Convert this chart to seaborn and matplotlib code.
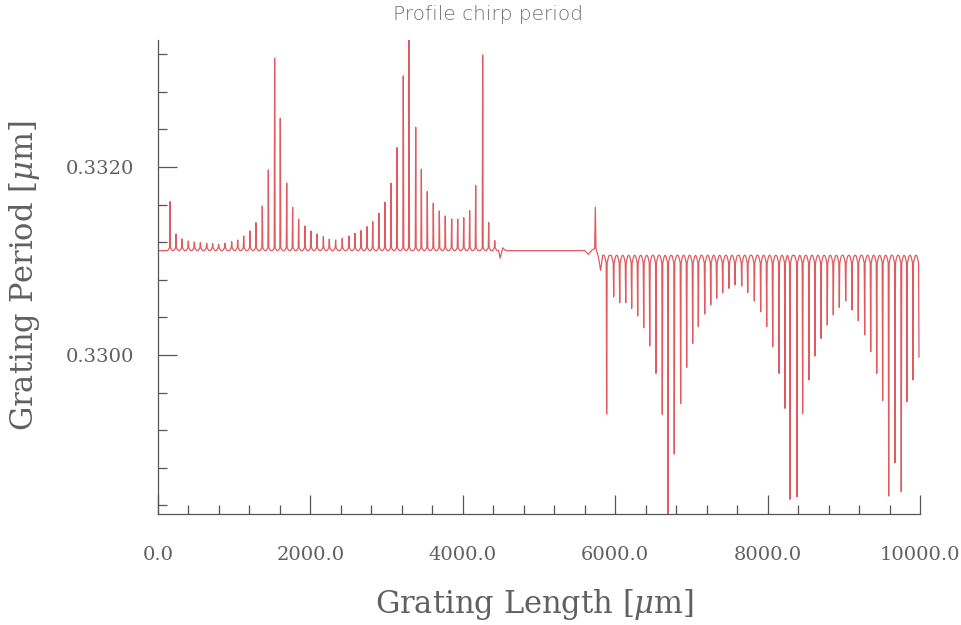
import matplotlib
matplotlib.use("Agg")
import matplotlib.pyplot as plt
from matplotlib.ticker import MultipleLocator, FormatStrFormatter
import seaborn as sns
import pandas as pd

# ---- data ----
left_base = 0.33111
left_arch = 0.00003
up_x = [157, 236, 315, 398, 477, 556, 639, 717, 796, 879, 967, 1046, 1125, 1207,
        1286, 1369, 1448, 1531, 1605, 1689, 1767, 1846, 1929, 2008, 2087, 2170,
        2248, 2331, 2418, 2506, 2585, 2664, 2743, 2818, 2900, 2979, 3058, 3136,
        3219, 3294, 3382, 3456, 3534, 3613, 3692, 3770, 3854, 3933, 4012, 4090,
        4169, 4261, 4340, 4419]
up_y = [0.331631, 0.331287, 0.331234, 0.331213, 0.331202, 0.331195, 0.331188,
        0.331184, 0.331177, 0.331188, 0.331206, 0.331223, 0.331266, 0.331319,
        0.331408, 0.331585, 0.331968, 0.333156, 0.332518, 0.331827, 0.331571,
        0.331444, 0.331372, 0.331319, 0.331287, 0.331259, 0.331231, 0.331223,
        0.331241, 0.331266, 0.331294, 0.331323, 0.331365, 0.331418, 0.331507,
        0.331624, 0.331827, 0.332206, 0.332968, 0.333360, 0.332422, 0.331976,
        0.331738, 0.331614, 0.331532, 0.331479, 0.331447, 0.331444, 0.331461,
        0.331535, 0.331801, 0.333191, 0.331408, 0.331216]

mid_x = [4470, 4490, 4525, 4560, 5600, 5648, 5700, 5730, 5739, 5748, 5778, 5809, 5835]
mid_y = [0.33111, 0.33103, 0.33114, 0.33111, 0.33111, 0.33107, 0.33112, 0.33113,
         0.331571, 0.33113, 0.33105, 0.33090, 0.33106]

right_base = 0.33106
right_arch = 0.00008
down_x = [5888, 5980, 6059, 6138, 6216, 6295, 6374, 6453, 6535, 6618, 6693, 6775,
          6859, 6938, 7017, 7091, 7175, 7254, 7332, 7411, 7494, 7572, 7660, 7739,
          7826, 7909, 7988, 8067, 8150, 8228, 8294, 8386, 8460, 8543, 8622, 8701,
          8783, 8862, 8941, 9025, 9107, 9190, 9274, 9353, 9432, 9510, 9589, 9672,
          9754, 9829, 9908, 9987]
down_y = [0.329372, 0.330620, 0.330556, 0.330556, 0.330496, 0.330415, 0.330290,
          0.330096, 0.329805, 0.329369, 0.328200, 0.328947, 0.329486, 0.329869,
          0.330124, 0.330301, 0.330436, 0.330532, 0.330603, 0.330663, 0.330709,
          0.330745, 0.330734, 0.330663, 0.330574, 0.330461, 0.330301, 0.330088,
          0.329805, 0.329433, 0.328465, 0.328493, 0.329380, 0.329734, 0.329989,
          0.330177, 0.330319, 0.330426, 0.330507, 0.330574, 0.330479, 0.330365,
          0.330213, 0.330035, 0.329805, 0.329514, 0.328500, 0.328854, 0.328546,
          0.329503, 0.329734, 0.329975]

# ---- assemble the trace (spike shape = rendering of each peak) ----
offs = [-35, -26, -17, -10, -6]
frac = [0.0, 0.15, 0.5, 0.85, 1.0]

xs, ys = [0.0], [left_base]
for px, py in zip(up_x, up_y):
    for o, f in zip(offs, frac):
        xs.append(px + o); ys.append(left_base + f * left_arch)
    xs.append(px); ys.append(py)
    for o, f in zip(reversed(offs), reversed(frac)):
        xs.append(px - o); ys.append(left_base + f * left_arch)
xs += mid_x; ys += mid_y
for i, (px, py) in enumerate(zip(down_x, down_y)):
    for o, f in zip(offs, frac):
        xs.append(px + o); ys.append(right_base - f * right_arch)
    xs.append(px); ys.append(py)
    if i == len(down_x) - 1:
        break
    for o, f in zip(reversed(offs), reversed(frac)):
        xs.append(px - o); ys.append(right_base - f * right_arch)

df = pd.DataFrame({"x": xs, "y": ys})

# ---- figure ----
sns.set_theme(style="white")
plt.rcParams["mathtext.fontset"] = "dejavuserif"
grey = "#555555"
txt = "#606060"

fig = plt.figure(figsize=(9.61, 6.25), dpi=100)
ax = fig.add_axes([158/961, 1-514/625, (920-158)/961, (514-40)/625])

sns.lineplot(data=df, x="x", y="y", sort=False, estimator=None,
             color="#e05a60", linewidth=0.9, ax=ax)

ax.set_xlim(0, 10000)
ax.set_ylim(0.328309, 0.33335)

ax.xaxis.set_major_locator(MultipleLocator(2000))
ax.xaxis.set_minor_locator(MultipleLocator(400))
ax.yaxis.set_major_locator(MultipleLocator(0.002))
ax.yaxis.set_minor_locator(MultipleLocator(0.0004))
ax.xaxis.set_major_formatter(FormatStrFormatter("%.1f"))
ax.yaxis.set_major_formatter(FormatStrFormatter("%.4f"))

for s in ["top", "right"]:
    ax.spines[s].set_visible(False)
for s in ["left", "bottom"]:
    ax.spines[s].set_color(grey)
    ax.spines[s].set_linewidth(0.9)

ax.tick_params(axis="both", which="both", direction="in", color=grey,
               labelcolor=txt, left=True, bottom=True)
ax.tick_params(axis="both", which="major", length=14, width=0.9)
ax.tick_params(axis="both", which="minor", length=6.5, width=0.9)
ax.tick_params(axis="x", which="major", pad=23)
ax.tick_params(axis="y", which="major", pad=17)
for lab in ax.get_xticklabels() + ax.get_yticklabels():
    lab.set_fontfamily("DejaVu Serif")
    lab.set_fontsize(14)

ax.set_xlabel(r"Grating Length [$\mu$m]", fontfamily="DejaVu Serif",
              fontsize=22, color=txt, va="center")
ax.xaxis.set_label_coords((534-158)/762, (514-605)/474)
ax.set_ylabel(r"Grating Period [$\mu$m]", fontfamily="DejaVu Serif",
              fontsize=22, color=txt, va="center")
ax.yaxis.set_label_coords((25-158)/762, (514-276)/474)

fig.text(488/961, 1-15/625, "Profile chirp period", ha="center", va="center",
         fontfamily="DejaVu Sans", fontsize=14.5, color="#707070",
         fontweight="light")

fig.savefig("out.png", dpi=100, facecolor="white")
